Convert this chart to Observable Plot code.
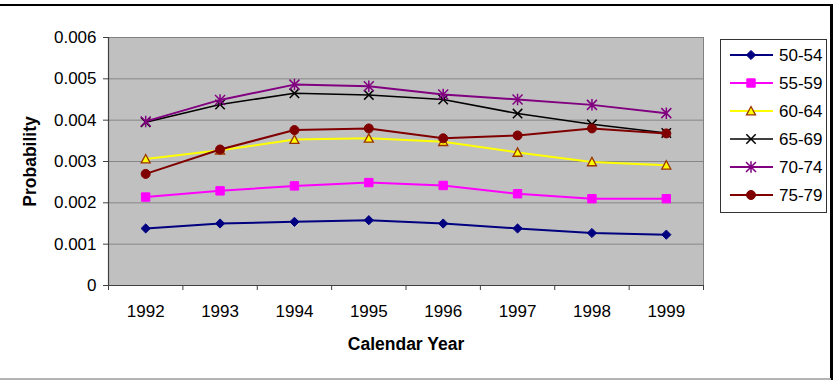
<!DOCTYPE html>
<html>
<head>
<meta charset="utf-8">
<script src="https://cdn.jsdelivr.net/npm/d3@7"></script>
<script src="https://cdn.jsdelivr.net/npm/@observablehq/plot@0.6"></script>
<style>
  html, body { margin: 0; padding: 0; background: #fff; }
  #chart { width: 833px; height: 380px; }
  #chart svg { display: block; }
</style>
</head>
<body>
<div id="chart"></div>
<script>
// Calendar years on the category axis
const years = [1992, 1993, 1994, 1995, 1996, 1997, 1998, 1999];
// Probability axis ticks
const yTicks = [0, 0.001, 0.002, 0.003, 0.004, 0.005, 0.006];

// Probability by age group
const age5054 = [0.00138, 0.00150, 0.00154, 0.00158, 0.00150, 0.00138, 0.00127, 0.00123];
const age5559 = [0.00214, 0.00229, 0.00241, 0.00249, 0.00242, 0.00222, 0.00210, 0.00210];
const age6064 = [0.00306, 0.00327, 0.00353, 0.00356, 0.00348, 0.00322, 0.00299, 0.00291];
const age6569 = [0.00395, 0.00438, 0.00465, 0.00461, 0.00450, 0.00416, 0.00390, 0.00369];
const age7074 = [0.00397, 0.00449, 0.00486, 0.00482, 0.00462, 0.00450, 0.00437, 0.00417];
const age7579 = [0.00270, 0.00329, 0.00376, 0.00380, 0.00356, 0.00363, 0.00380, 0.00368];

const seriesNames = ["50-54", "55-59", "60-64", "65-69", "70-74", "75-79"];
const seriesValues = [age5054, age5559, age6064, age6569, age7074, age7579];

// Marker shapes, drawn with half-width r = sqrt(size / PI)
const half = size => Math.sqrt(size / Math.PI);
const diamond = {draw(c, s) { const r = half(s); c.moveTo(0, -r); c.lineTo(r, 0); c.lineTo(0, r); c.lineTo(-r, 0); c.closePath(); }};
const square = {draw(c, s) { const r = half(s); c.rect(-r, -r, 2 * r, 2 * r); }};
const triangle = {draw(c, s) { const r = half(s); c.moveTo(0, -r); c.lineTo(r, r * 0.85); c.lineTo(-r, r * 0.85); c.closePath(); }};
const cross = {draw(c, s) { const r = half(s); c.moveTo(-r, -r); c.lineTo(r, r); c.moveTo(r, -r); c.lineTo(-r, r); }};
const star = {draw(c, s) { const r = half(s); c.moveTo(-r, -r); c.lineTo(r, r); c.moveTo(r, -r); c.lineTo(-r, r); c.moveTo(0, -r * 1.15); c.lineTo(0, r * 1.15); }};
const circle = {draw(c, s) { const r = half(s); c.moveTo(r, 0); c.arc(0, 0, r, 0, 2 * Math.PI); }};

const styles = [
  {line: "#000080", width: 2, symbol: diamond, fill: "#000080", stroke: "#000080", sw: 1, r: 4.6},
  {line: "#ff00ff", width: 2, symbol: square, fill: "#ff00ff", stroke: "#ff00ff", sw: 1, r: 4.2},
  {line: "#ffff00", width: 2, symbol: triangle, fill: "#ffff00", stroke: "#993300", sw: 1.3, r: 4.5},
  {line: "#000000", width: 1.5, symbol: cross, fill: "none", stroke: "#000000", sw: 1.5, r: 4.7},
  {line: "#800080", width: 2, symbol: star, fill: "none", stroke: "#800080", sw: 1.5, r: 5},
  {line: "#800000", width: 2, symbol: circle, fill: "#800000", stroke: "#800000", sw: 1, r: 4.5}
];

const rows = seriesNames.map((name, i) =>
  years.map((year, j) => ({series: name, year, value: seriesValues[i][j]}))
);

// Category boundaries carry the axis tick marks
const bounds = d3.range(years.length + 1).map(i => years[0] - 0.5 + i);

const seriesMarks = rows.flatMap((data, i) => {
  const s = styles[i];
  return [
    Plot.line(data, {x: "year", y: "value", stroke: s.line, strokeWidth: s.width}),
    Plot.dot(data, {x: "year", y: "value", symbol: s.symbol, r: s.r, fill: s.fill, stroke: s.stroke, strokeWidth: s.sw})
  ];
});

const chart = Plot.plot({
  width: 833,
  height: 380,
  marginLeft: 108,
  marginRight: 130,
  marginTop: 37,
  marginBottom: 95,
  style: {fontFamily: "'Liberation Sans', Arial, sans-serif", fontSize: "17px", color: "#000", background: "transparent"},
  x: {domain: [bounds[0], bounds[bounds.length - 1]]},
  y: {domain: [0, 0.006]},
  marks: [
    Plot.frame({fill: "#c0c0c0", stroke: null}),
    Plot.ruleY(yTicks.filter(d => d > 0), {stroke: "#868686", strokeWidth: 1}),
    Plot.frame({stroke: "#808080", strokeWidth: 1}),
    Plot.axisY({ticks: yTicks, tickFormat: d => d === 0 ? "0" : d.toFixed(3), tickSize: 5, tickPadding: 7, label: null, stroke: "#404040"}),
    Plot.axisX({ticks: years, tickFormat: d => String(d), tickSize: 0, tickPadding: 19, label: null}),
    Plot.axisX({ticks: bounds, tickFormat: () => "", tickSize: 5, label: null, stroke: "#404040"}),
    Plot.ruleX([bounds[0]], {stroke: "#404040", strokeWidth: 1.2}),
    Plot.ruleY([0], {stroke: "#404040", strokeWidth: 1.2}),
    ...seriesMarks,
    Plot.text(["Calendar Year"], {frameAnchor: "bottom", dy: 58.5, textAnchor: "middle", lineAnchor: "middle", fontWeight: "bold", fontSize: 17.5}),
    Plot.text(["Probability"], {frameAnchor: "left", dx: -78, rotate: -90, textAnchor: "middle", lineAnchor: "middle", fontWeight: "bold", fontSize: 17.5})
  ]
});

document.getElementById("chart").appendChild(chart);

// Legend box and outer border lines
const svg = d3.select(chart);
const legend = svg.append("g").attr("text-anchor", "start");
legend.append("rect")
  .attr("x", 720.5).attr("y", 39.5).attr("width", 106).attr("height", 173)
  .attr("fill", "#fff").attr("stroke", "#333").attr("stroke-width", 1);
seriesNames.forEach((name, i) => {
  const s = styles[i];
  const y = 55 + i * 28;
  const g = legend.append("g");
  g.append("line").attr("x1", 730).attr("x2", 773).attr("y1", y).attr("y2", y)
    .attr("stroke", s.line).attr("stroke-width", s.width);
  g.append("path")
    .attr("transform", `translate(751,${y})`)
    .attr("d", d3.symbol().type(s.symbol).size(Math.PI * s.r * s.r)())
    .attr("fill", s.fill).attr("stroke", s.stroke).attr("stroke-width", s.sw);
  g.append("text").attr("x", 779).attr("y", y).attr("dy", "0.35em")
    .attr("text-anchor", "start")
    .attr("font-size", 17).attr("fill", "#000").text(name);
});
svg.append("line").attr("x1", 0).attr("x2", 833).attr("y1", 5).attr("y2", 5)
  .attr("stroke", "#000").attr("stroke-width", 2);
svg.append("line").attr("x1", 831.5).attr("x2", 831.5).attr("y1", 4).attr("y2", 380)
  .attr("stroke", "#000").attr("stroke-width", 3);
svg.append("line").attr("x1", 0).attr("x2", 831).attr("y1", 379).attr("y2", 379)
  .attr("stroke", "#b4b4b4").attr("stroke-width", 2);
</script>
</body>
</html>
